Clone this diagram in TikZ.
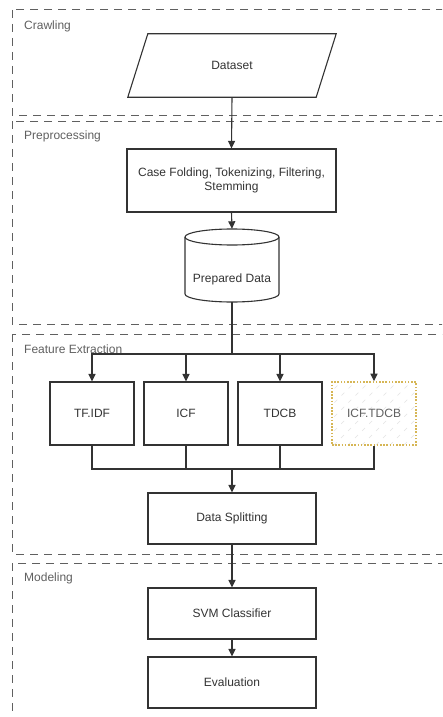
\documentclass[tikz,border=0pt]{standalone}
\usepackage{fontspec}
\setmainfont{Liberation Sans}
\usetikzlibrary{arrows.meta}
\definecolor{lncol}{HTML}{333333}
\definecolor{txcol}{HTML}{333333}
\definecolor{seccol}{HTML}{606060}
\definecolor{goldcol}{HTML}{D6B656}
\begin{document}
\begin{tikzpicture}[x=1pt,y=-1pt,
  font=\fontsize{12}{14.5}\selectfont,
  box/.style={draw=lncol, line width=1.1pt, fill=white, text=txcol, align=center, inner sep=0pt},
  ghost/.style={draw=none, inner sep=0pt},
  wire/.style={draw=lncol, line width=1.1pt},
  arr/.style={draw=lncol, line width=1.1pt, -{Triangle[length=7.5pt,width=7pt]}},
  secbox/.style={draw=seccol, line width=1pt, dash pattern=on 8pt off 6pt},
  seclabel/.style={text=seccol, anchor=west, inner sep=0pt}]
\useasboundingbox (0,0) rectangle (442,717);
\fill[white] (0,0) rectangle (442,717);
% sections
\begin{scope}
\clip (0,0) rectangle (442,717);
\draw[secbox] (12,10) rectangle (480,115);
\draw[secbox] (12,121) rectangle (480,324);
\draw[secbox] (12,334) rectangle (480,554);
\draw[secbox] (12,563) rectangle (480,760);
\end{scope}
\node[seclabel] (lcrawl) at (24,26) {Crawling};
\node[seclabel] (lprep) at (24,136) {Preprocessing};
\node[seclabel] (lfe) at (24,349) {Feature Extraction};
\node[seclabel] (lmod) at (24,578) {Modeling};
% dataset parallelogram
\node[ghost, minimum width=208pt, minimum height=63pt] (dataset) at (232,65.5) {};
\draw[wire, fill=white] ([xshift=20pt]dataset.north west) -- (dataset.north east)
  -- ([xshift=-20pt]dataset.south east) -- (dataset.south west) -- cycle;
\node[text=txcol] (dtext) at (dataset.center) {Dataset};
% preprocessing
\node[box, minimum width=209pt, minimum height=63pt] (case) at (231.5,180.5)
  {Case Folding, Tokenizing, Filtering,\\Stemming};
\node[ghost, minimum width=94pt, minimum height=73pt] (prep) at (232,265.5) {};
\draw[wire, fill=white] (185,237) -- (185,294)
  arc[start angle=180, end angle=360, x radius=47pt, y radius=8pt] -- (279,237)
  arc[start angle=0, end angle=180, x radius=47pt, y radius=8pt] -- cycle;
\draw[wire] (185,237) arc[start angle=180, end angle=360, x radius=47pt, y radius=8pt];
\node[text=txcol] (ptext) at (232,279) {Prepared Data};
% feature extraction
\node[box, minimum width=84pt, minimum height=63pt] (tfidf) at (92,413.5) {TF.IDF};
\node[box, minimum width=84pt, minimum height=63pt] (icf) at (186,413.5) {ICF};
\node[box, minimum width=84pt, minimum height=63pt] (tdcb) at (280,413.5) {TDCB};
\node[draw=goldcol, line width=1.6pt, dash pattern=on 1.6pt off 1.6pt,
  text=seccol, inner sep=0pt, minimum width=84pt, minimum height=63pt,
  path picture={
    \foreach \i in {-110,-96,...,40}
      \draw[gray!22, line width=0.6pt, dash pattern=on 4pt off 6pt]
        ([xshift=\i pt]path picture bounding box.south) -- ++(70,-70);
  }] (icftdcb) at (374,413.5) {ICF.TDCB};
\node[box, minimum width=168pt, minimum height=51pt] (split) at (232,518.5) {Data Splitting};
% modeling
\node[box, minimum width=168pt, minimum height=51pt] (svm) at (232,613.5) {SVM Classifier};
\node[box, minimum width=168pt, minimum height=51pt] (eval) at (232,682.5) {Evaluation};
% connectors
\draw[arr] (dataset.south) -- (case.north);
\draw[arr] (case.south) -- (prep.north);
\coordinate (br) at (232,354);
\coordinate (jn) at (232,469);
\draw[wire] (prep.south) -- (br);
\draw[arr] (br) -| (tfidf.north);
\draw[arr] (br) -| (icf.north);
\draw[arr] (br) -| (tdcb.north);
\draw[arr] (br) -| (icftdcb.north);
\draw[wire] (tfidf.south) |- (jn);
\draw[wire] (icf.south) |- (jn);
\draw[wire] (tdcb.south) |- (jn);
\draw[wire] (icftdcb.south) |- (jn);
\draw[arr] (jn) -- (split.north);
\draw[arr] (split.south) -- (svm.north);
\draw[arr] (svm.south) -- (eval.north);
\end{tikzpicture}
\end{document}
